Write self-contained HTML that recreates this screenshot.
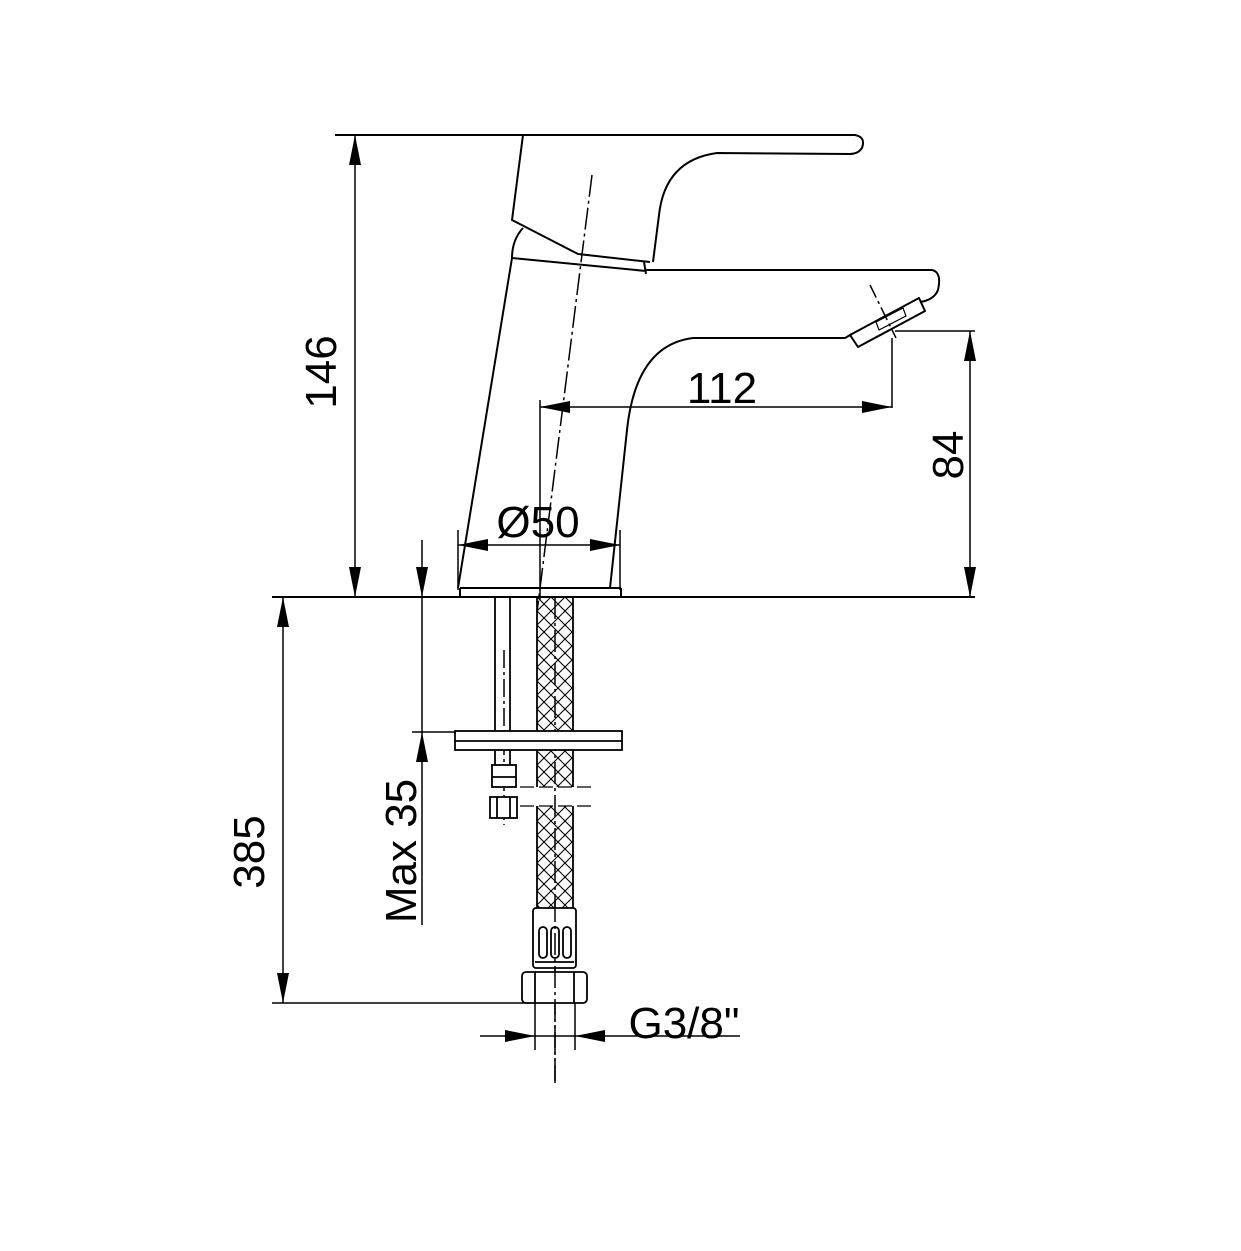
<!DOCTYPE html>
<html><head><meta charset="utf-8"><style>html,body{margin:0;padding:0;background:#fff}svg{display:block}</style></head>
<body>
<svg width="1241" height="1251" viewBox="0 0 1241 1251" xmlns="http://www.w3.org/2000/svg">
<defs>
<pattern id="hx" width="14" height="14" patternUnits="userSpaceOnUse" x="537" y="597">
<path d="M0,0 L14,14 M14,0 L0,14" stroke="#000" stroke-width="1.1" fill="none"/>
</pattern>
<marker id="a" viewBox="0 0 30 12" refX="30" refY="6" markerWidth="30" markerHeight="12" markerUnits="userSpaceOnUse" orient="auto-start-reverse"><path d="M0,0 L30,6 L0,12 z" fill="#000"/></marker>
</defs>
<g fill="none" stroke="#000" stroke-width="2" stroke-linejoin="round">
<line x1="272" y1="597" x2="975" y2="597"/>
<path d="M335,135 L855,135 Q866,137 862,148 Q858,154 850,154 L717,153 Q665,160 659,215 L653,262"/>
<path d="M523,135 L512,220 L578,254 L650,262"/>
<path d="M644,262 L646,274"/>
<path d="M523,228 Q512,240 512,258"/>
<path d="M512,258 L646,271 M646,270 L932,270 Q942,272 938,290 Q934,300 920,302"/>
<path d="M458,588 L512,258"/>
<path d="M610,588 L627,430 Q636,345 693,338 L845,338 L852,334"/>
<path d="M850,335 L919,298 L925,311 L858,347 Z"/>
<path d="M876,322 L903,308 L906,316 L879,330 Z" stroke-width="1.2"/>
<path d="M460,588 L460,597 M621,588 L621,597 M460,588 L621,588"/>
</g>
<g fill="none" stroke="#000" stroke-width="1.5">
<line x1="355" y1="135" x2="355" y2="597" marker-start="url(#a)" marker-end="url(#a)"/>
<line x1="540" y1="407" x2="892" y2="407" marker-start="url(#a)" marker-end="url(#a)"/>
<line x1="540" y1="400" x2="540" y2="600"/>
<line x1="892" y1="338" x2="892" y2="408"/>
<line x1="895" y1="331" x2="975" y2="331"/>
<line x1="970" y1="331" x2="970" y2="597" marker-start="url(#a)" marker-end="url(#a)"/>
<line x1="458" y1="530" x2="458" y2="590"/>
<line x1="620" y1="530" x2="620" y2="590"/>
<line x1="458" y1="545" x2="620" y2="545" marker-start="url(#a)" marker-end="url(#a)"/>
<line x1="422" y1="540" x2="422" y2="597" marker-end="url(#a)"/>
<line x1="422" y1="925" x2="422" y2="732" marker-end="url(#a)"/>
<line x1="422" y1="597" x2="422" y2="732"/>
<line x1="412" y1="732" x2="455" y2="732"/>
<line x1="283" y1="597" x2="283" y2="1003" marker-start="url(#a)" marker-end="url(#a)"/>
<line x1="272" y1="1003" x2="530" y2="1003"/>
<line x1="535" y1="1003" x2="535" y2="1050"/>
<line x1="575" y1="1003" x2="575" y2="1050"/>
<line x1="480" y1="1036" x2="535" y2="1036" marker-end="url(#a)"/>
<line x1="740" y1="1036" x2="575" y2="1036" marker-end="url(#a)"/>
<line x1="535" y1="1036" x2="575" y2="1036"/>
<line x1="592" y1="175" x2="537" y2="612" stroke-dasharray="22,4,3,4"/>
<line x1="555" y1="597" x2="555" y2="1083" stroke-dasharray="22,4,3,4"/>
<line x1="504" y1="650" x2="504" y2="825" stroke-dasharray="18,4,3,4"/>
<line x1="870" y1="285" x2="896" y2="338" stroke-dasharray="14,4,3,4"/>
</g>
<g stroke="#000" stroke-width="1.8" fill="none">
<line x1="495" y1="597" x2="495" y2="765"/><line x1="510" y1="597" x2="510" y2="765"/>
<rect x="455" y="731" width="167" height="19" fill="#fff"/>
<line x1="455" y1="741" x2="622" y2="741"/>
<rect x="537" y="597" width="36" height="134" fill="url(#hx)" stroke="none"/>
<rect x="537" y="750" width="36" height="37" fill="url(#hx)" stroke="none"/>
<rect x="537" y="806" width="36" height="102" fill="url(#hx)" stroke="none"/>
<line x1="537" y1="597" x2="537" y2="731"/><line x1="573" y1="597" x2="573" y2="731"/>
<line x1="537" y1="750" x2="537" y2="787"/><line x1="573" y1="750" x2="573" y2="787"/>
<line x1="537" y1="806" x2="537" y2="908"/><line x1="573" y1="806" x2="573" y2="908"/>
<line x1="520" y1="787" x2="595" y2="787" stroke-dasharray="14,5" stroke-width="1.2"/>
<line x1="520" y1="806" x2="595" y2="806" stroke-dasharray="14,5" stroke-width="1.2"/>
<rect x="492" y="765" width="24" height="22" fill="#fff"/>
<line x1="492" y1="777" x2="516" y2="777"/>
<rect x="490" y="797" width="27" height="21" fill="#fff"/>
<line x1="497" y1="797" x2="497" y2="818"/><line x1="510" y1="797" x2="510" y2="818"/>
<rect x="533" y="908" width="43" height="60" rx="3" fill="#fff"/>
<rect x="539" y="927" width="8" height="31" rx="4"/>
<rect x="551" y="927" width="8" height="31" rx="4"/>
<rect x="563" y="927" width="8" height="31" rx="4"/>
<line x1="535" y1="962" x2="574" y2="962"/>
<rect x="522" y="972" width="65" height="31" rx="4" fill="#fff"/>
<line x1="535" y1="972" x2="535" y2="1003"/><line x1="574" y1="972" x2="574" y2="1003"/>
</g>
<line x1="555" y1="900" x2="555" y2="1083" stroke="#000" stroke-width="1.5" stroke-dasharray="22,4,3,4"/>
<g font-family="'Liberation Sans', Arial, sans-serif" font-size="44" fill="#000">
<text x="722" y="403" text-anchor="middle">112</text>
<text x="538" y="537" text-anchor="middle">Ø50</text>
<text x="684" y="1038" text-anchor="middle">G3/8"</text>
<text transform="translate(336,372) rotate(-90)" text-anchor="middle">146</text>
<text transform="translate(963,455) rotate(-90)" text-anchor="middle">84</text>
<text transform="translate(264,852) rotate(-90)" text-anchor="middle">385</text>
<text transform="translate(416,851) rotate(-90)" text-anchor="middle">Max 35</text>
</g>
</svg>
</body></html>
